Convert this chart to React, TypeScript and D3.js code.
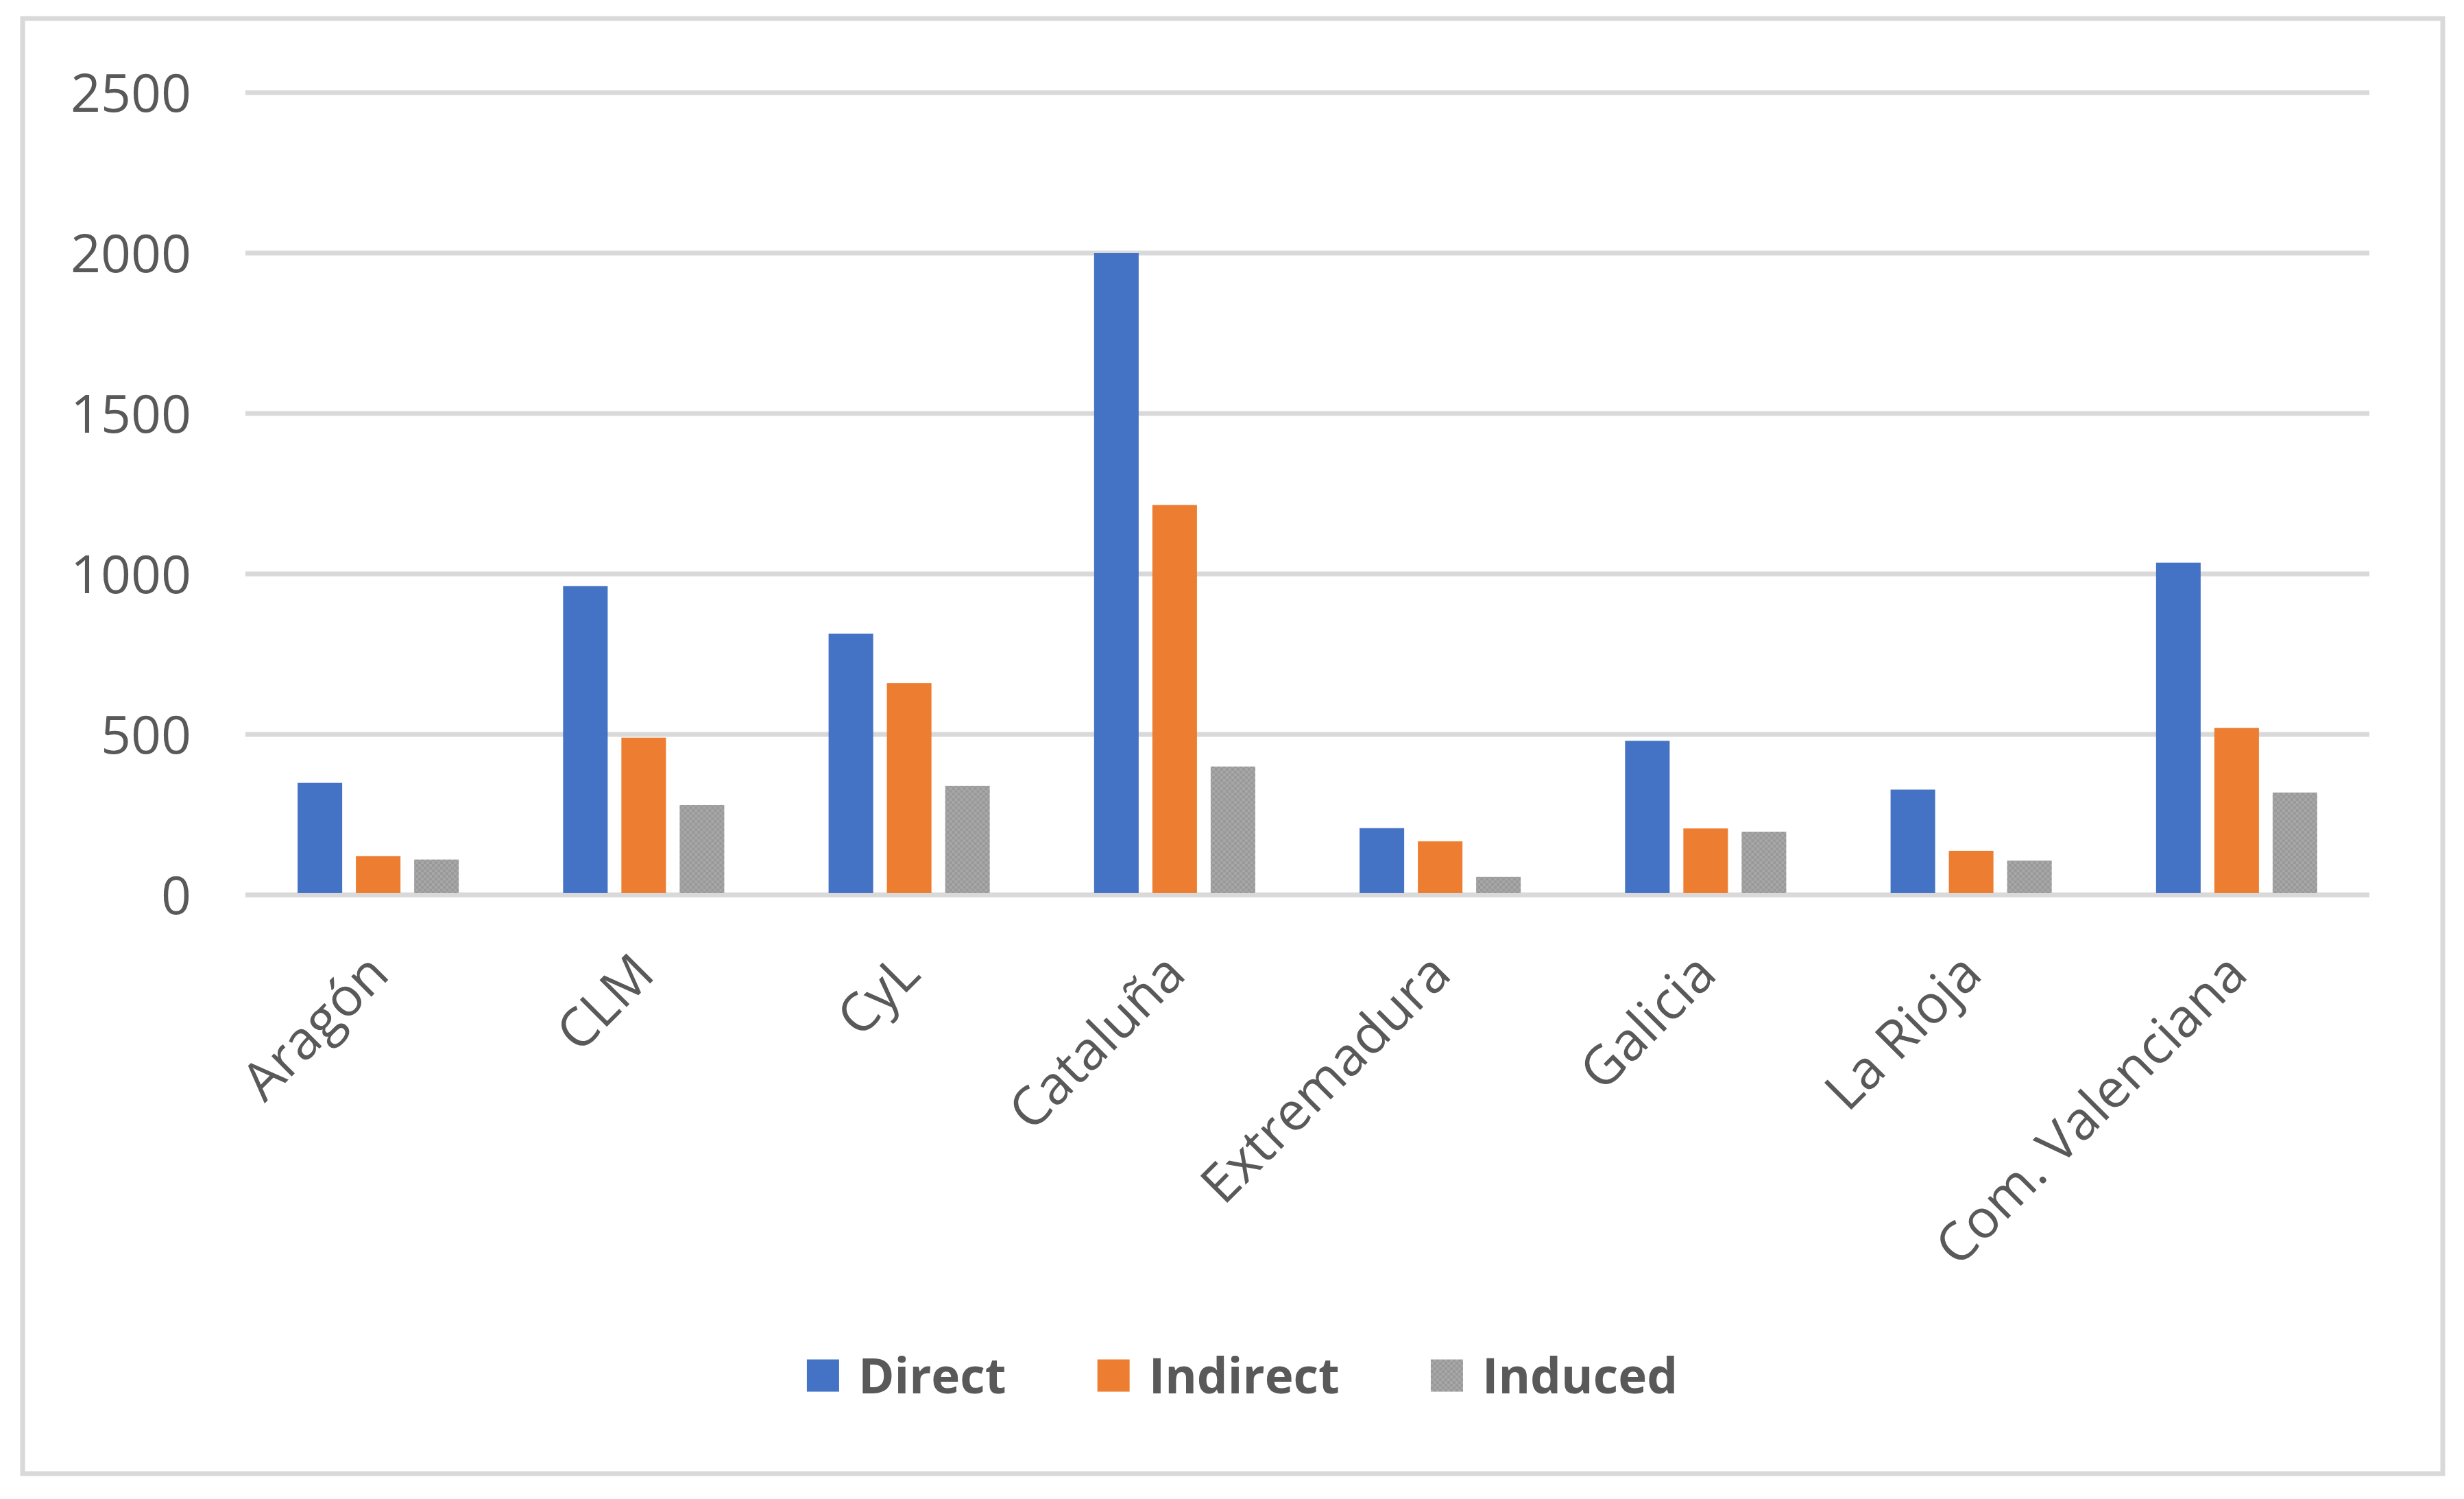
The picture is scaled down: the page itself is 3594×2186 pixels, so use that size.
import React, { useEffect, useRef } from 'react';
import { select, scaleBand, scaleLinear, scaleOrdinal } from 'd3';

// chart data
const regions = [
  'Aragón',
  'CLM',
  'CyL',
  'Cataluña',
  'Extremadura',
  'Galicia',
  'La Rioja',
  'Com. Valenciana',
];
const seriesNames = ['Direct', 'Indirect', 'Induced'];
const direct = [349, 962, 814, 2000, 208, 480, 328, 1035];
const indirect = [121, 490, 660, 1215, 167, 207, 137, 520];
const induced = [110, 280, 340, 400, 56, 197, 107, 319];
const yTicks = [0, 500, 1000, 1500, 2000, 2500];

const W = 3594;
const H = 2186;
const FONT = '"Open Sans", "Noto Sans", sans-serif';
const TEXT = '#595959';

export default function App() {
  const svgRef = useRef<SVGSVGElement>(null);

  useEffect(() => {
    const svg = select(svgRef.current);
    svg.selectAll('*').remove();

    const margin = { top: 135, left: 358, right: W - 3456, bottom: H - 1305 };

    const values: Record<string, number[]> = {
      Direct: direct,
      Indirect: indirect,
      Induced: induced,
    };

    const x0 = scaleBand()
      .domain(regions)
      .range([margin.left, W - margin.right])
      .paddingInner(0.393)
      .paddingOuter(0.1965);
    const x1 = scaleBand()
      .domain(seriesNames)
      .range([0, x0.bandwidth()])
      .paddingInner(0.235);
    const y = scaleLinear().domain([0, 2500]).range([H - margin.bottom, margin.top]);
    const color = scaleOrdinal<string, string>()
      .domain(seriesNames)
      .range(['#4472C4', '#ED7D31', 'url(#dots)']);

    // pattern for the grey series
    const defs = svg.append('defs');
    const pat = defs
      .append('pattern')
      .attr('id', 'dots')
      .attr('patternUnits', 'userSpaceOnUse')
      .attr('width', 8)
      .attr('height', 8);
    pat.append('rect').attr('width', 8).attr('height', 8).attr('fill', '#a7a7a7');
    pat.append('rect').attr('x', 0).attr('y', 0).attr('width', 4).attr('height', 4).attr('fill', '#999999');
    pat.append('rect').attr('x', 4).attr('y', 4).attr('width', 4).attr('height', 4).attr('fill', '#999999');

    // background + outer border
    svg.append('rect').attr('width', W).attr('height', H).attr('fill', '#ffffff');
    svg
      .append('rect')
      .attr('x', 33)
      .attr('y', 27)
      .attr('width', 3530)
      .attr('height', 2122)
      .attr('fill', 'none')
      .attr('stroke', '#d9d9d9')
      .attr('stroke-width', 7);

    // gridlines
    svg
      .append('g')
      .selectAll('line')
      .data(yTicks)
      .join('line')
      .attr('x1', margin.left)
      .attr('x2', W - margin.right)
      .attr('y1', d => y(d))
      .attr('y2', d => y(d))
      .attr('stroke', '#d9d9d9')
      .attr('stroke-width', 7);

    // y tick labels
    svg
      .append('g')
      .selectAll('text')
      .data(yTicks)
      .join('text')
      .attr('x', 279)
      .attr('y', d => y(d))
      .attr('dy', '0.36em')
      .attr('text-anchor', 'end')
      .attr('font-family', FONT)
      .attr('font-size', 77)
      .attr('fill', TEXT)
      .text(d => String(d));

    // bars
    const groups = svg
      .append('g')
      .selectAll('g')
      .data(regions)
      .join('g')
      .attr('transform', d => `translate(${x0(d)},0)`);

    groups
      .selectAll('rect')
      .data((d, i) => seriesNames.map(s => ({ s, v: values[s][i] })))
      .join('rect')
      .attr('x', d => x1(d.s) as number)
      .attr('width', x1.bandwidth())
      .attr('y', d => y(d.v))
      .attr('height', d => y(0) - y(d.v) - 3)
      .attr('fill', d => color(d.s));

    // category labels
    svg
      .append('g')
      .selectAll('text')
      .data(regions)
      .join('text')
      .attr(
        'transform',
        d => `translate(${(x0(d) as number) + x0.bandwidth() / 2},1405) rotate(-45)`,
      )
      .attr('dy', '0.35em')
      .attr('text-anchor', 'end')
      .attr('font-family', FONT)
      .attr('font-size', 78)
      .attr('fill', TEXT)
      .text(d => d);

    // legend
    const legend = svg.append('g');
    const box = 47;
    const gapText = 28;
    const gapItem = 133;
    const items = legend
      .selectAll('g')
      .data(seriesNames)
      .join('g');
    items
      .append('rect')
      .attr('width', box)
      .attr('height', box)
      .attr('y', -box / 2)
      .attr('fill', d => color(d));
    items
      .append('text')
      .attr('x', box + gapText)
      .attr('dy', '0.36em')
      .attr('font-family', FONT)
      .attr('font-weight', 'bold')
      .attr('font-size', 71)
      .attr('fill', TEXT)
      .text(d => d);

    let offset = 0;
    const widths: number[] = [];
    items.each(function () {
      const t = select(this).select('text').node() as SVGTextElement;
      widths.push(box + gapText + t.getComputedTextLength());
    });
    const total = widths.reduce((a, b) => a + b, 0) + gapItem * (widths.length - 1);
    const start = 1812 - total / 2;
    items.attr('transform', (d, i) => {
      const tx = start + offset;
      offset += widths[i] + gapItem;
      return `translate(${tx},2006)`;
    });
  }, []);

  return (
    <svg
      ref={svgRef}
      width={W}
      height={H}
      style={{ position: 'absolute', left: 0, top: 0 }}
    />
  );
}
